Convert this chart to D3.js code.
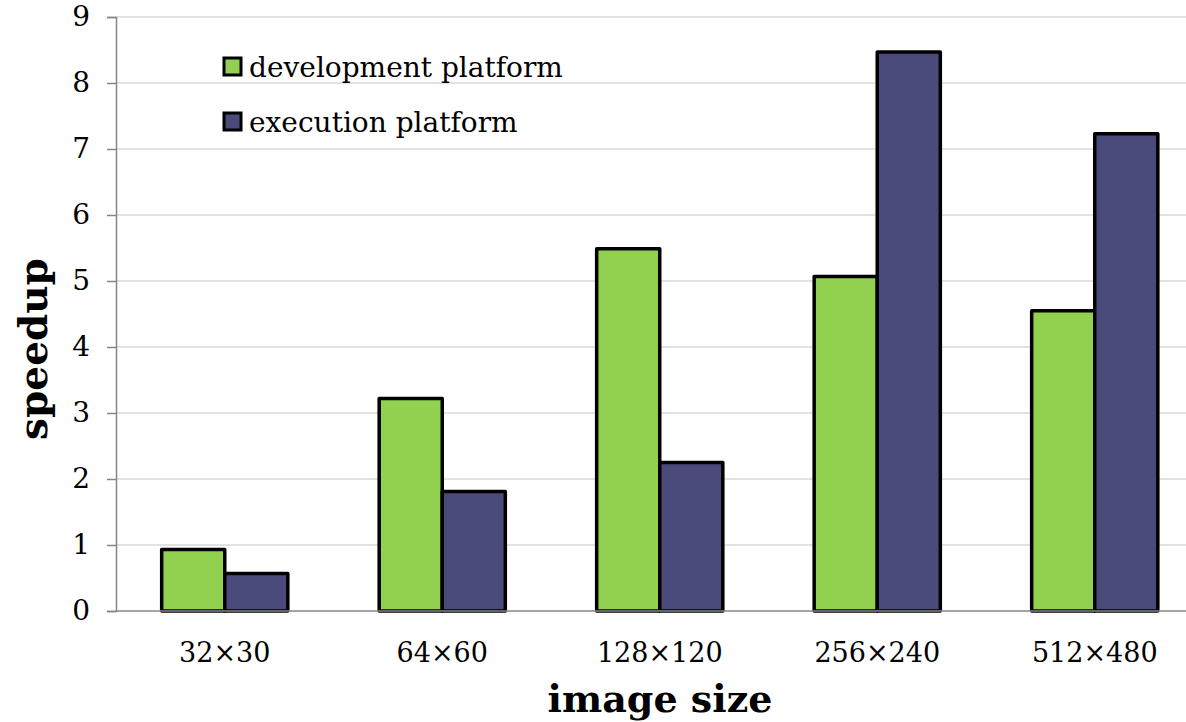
<!DOCTYPE html>
<html>
<head>
<meta charset="utf-8">
<script src="https://cdn.jsdelivr.net/npm/d3@7"></script>
<style>
  html, body { margin: 0; padding: 0; background: #ffffff; }
  svg { display: block; }
  text { font-family: "DejaVu Serif", "Liberation Serif", serif; fill: #000; }
</style>
</head>
<body>
<svg id="chart" width="1186" height="722"></svg>
<script>
// Speedup per image size, two platforms
const categories = ["32×30", "64×60", "128×120", "256×240", "512×480"];
const seriesNames = ["development platform", "execution platform"];
const development = [0.93, 3.22, 5.49, 5.07, 4.55];
const execution = [0.57, 1.81, 2.25, 8.47, 7.23];
const yTicks = [0, 1, 2, 3, 4, 5, 6, 7, 8, 9];
const colors = ["#92d050", "#4a4b7b"];

const svg = d3.select("#chart");
const W = 1186;
const plotLeft = 116, plotTop = 17, plotBottom = 611;
const step = 217.5;

const x = d3.scaleBand()
  .domain(categories)
  .range([plotLeft, plotLeft + step * categories.length])
  .paddingInner(0.42)
  .paddingOuter(0.21);

const xs = d3.scaleBand()
  .domain(seriesNames)
  .range([0, x.bandwidth()]);

const y = d3.scaleLinear().domain([0, 9]).range([plotBottom, plotTop]);

// gridlines
svg.append("g")
  .selectAll("line")
  .data(yTicks.filter(d => d > 0))
  .join("line")
  .attr("x1", plotLeft).attr("x2", W)
  .attr("y1", d => y(d)).attr("y2", d => y(d))
  .attr("stroke", "#d9d9d9").attr("stroke-width", 1.5);

// y axis
const yAxis = svg.append("g")
  .attr("transform", `translate(${plotLeft},0)`)
  .call(d3.axisLeft(y).tickValues(yTicks).tickSize(9).tickPadding(17).tickFormat(d3.format("d")));
yAxis.select(".domain").attr("stroke", "#868686").attr("stroke-width", 1.5);
yAxis.selectAll(".tick line").attr("stroke", "#868686").attr("stroke-width", 1.5);
yAxis.selectAll(".tick text")
  .attr("font-size", 28)
  .attr("font-family", "DejaVu Serif")
  .attr("fill", "#000");

// bars
const rows = categories.map((c, i) => ({ cat: c, values: [development[i], execution[i]] }));
const groups = svg.append("g")
  .selectAll("g")
  .data(rows)
  .join("g")
  .attr("transform", d => `translate(${x(d.cat)},0)`);

groups.selectAll("rect")
  .data(d => d.values.map((v, j) => ({ name: seriesNames[j], value: v, j })))
  .join("rect")
  .attr("x", d => xs(d.name))
  .attr("width", xs.bandwidth())
  .attr("y", d => y(d.value))
  .attr("height", d => plotBottom - y(d.value))
  .attr("fill", d => colors[d.j])
  .attr("stroke", "#000")
  .attr("stroke-width", 3.5)
  .attr("stroke-linejoin", "round");

// x axis baseline
svg.append("line")
  .attr("x1", plotLeft).attr("x2", W)
  .attr("y1", plotBottom).attr("y2", plotBottom)
  .attr("stroke", "#868686").attr("stroke-width", 1.5);

// category labels
svg.append("g")
  .selectAll("text")
  .data(categories)
  .join("text")
  .attr("x", d => x(d) + x.bandwidth() / 2)
  .attr("y", 662)
  .attr("text-anchor", "middle")
  .attr("font-size", 27)
  .text(d => d);

// axis titles
svg.append("text")
  .attr("x", 660).attr("y", 712)
  .attr("text-anchor", "middle")
  .attr("font-size", 38)
  .attr("font-weight", "bold")
  .text("image size");

svg.append("text")
  .attr("transform", "translate(47,349) rotate(-90)")
  .attr("text-anchor", "middle")
  .attr("font-size", 39)
  .attr("font-weight", "bold")
  .text("speedup");

// legend
const legend = svg.append("g")
  .selectAll("g")
  .data(seriesNames)
  .join("g")
  .attr("transform", (d, i) => `translate(224,${58 + i * 55})`);
legend.append("rect")
  .attr("width", 17).attr("height", 17)
  .attr("fill", (d, i) => colors[i])
  .attr("stroke", "#000").attr("stroke-width", 3);
legend.append("text")
  .attr("x", 25).attr("y", 19)
  .attr("font-size", 28)
  .text(d => d);
</script>
</body>
</html>
